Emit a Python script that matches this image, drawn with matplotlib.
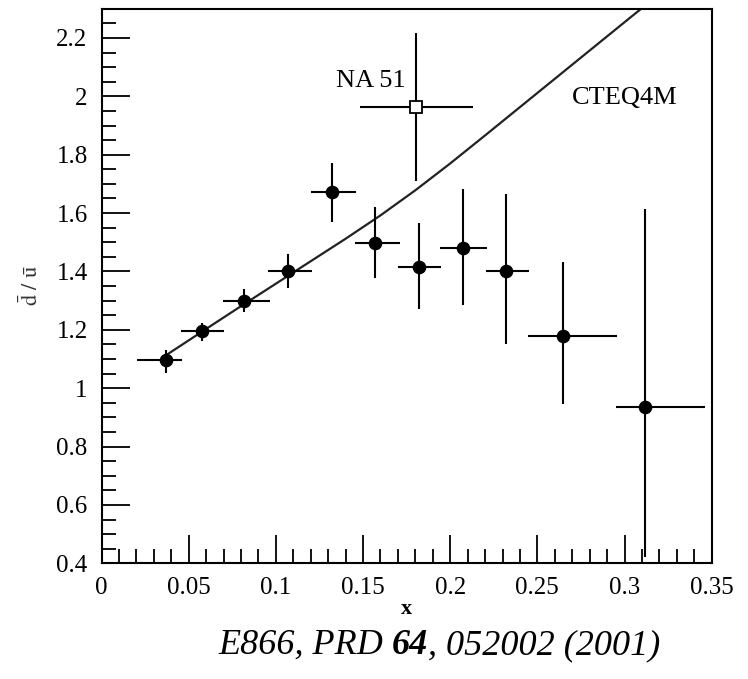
import matplotlib
matplotlib.use("Agg")
import matplotlib.pyplot as plt
from matplotlib.ticker import MultipleLocator

plt.rcParams['font.family'] = ['Liberation Serif', 'DejaVu Serif']
plt.rcParams['mathtext.fontset'] = 'stix'

# E866 d-bar/u-bar points
x_e866 = [0.0368, 0.0578, 0.0819, 0.1068, 0.1320, 0.1570, 0.1820, 0.2071, 0.2318, 0.2648, 0.3120]
y_e866 = [1.095, 1.196, 1.299, 1.403, 1.671, 1.497, 1.414, 1.480, 1.400, 1.180, 0.936]
xlo_e866 = [0.0166, 0.0122, 0.0124, 0.0111, 0.0120, 0.0116, 0.0120, 0.0131, 0.0115, 0.0204, 0.0170]
xhi_e866 = [0.0092, 0.0126, 0.0147, 0.0137, 0.0140, 0.0140, 0.0130, 0.0141, 0.0135, 0.0310, 0.0343]
ylo_e866 = [0.042, 0.036, 0.039, 0.060, 0.103, 0.118, 0.142, 0.194, 0.248, 0.234, 0.516]
yhi_e866 = [0.036, 0.029, 0.041, 0.057, 0.101, 0.123, 0.152, 0.203, 0.265, 0.254, 0.679]

# NA51 point
x_na51 = [0.1805]
y_na51 = [1.964]
xerr_na51 = [[0.0325], [0.0325]]
yerr_na51 = [[0.253], [0.253]]

# CTEQ4M curve
x_cteq = [0.035, 0.06, 0.08, 0.10, 0.12, 0.14, 0.16, 0.18, 0.20, 0.22, 0.24, 0.26, 0.28, 0.30, 0.312]
y_cteq = [1.105, 1.203, 1.281, 1.358, 1.435, 1.512, 1.592, 1.678, 1.770, 1.866, 1.963, 2.060, 2.157, 2.254, 2.312]

fig = plt.figure(figsize=(7.48, 6.79), dpi=100)
ax = fig.add_axes([0.1357, 0.1704, 0.8158, 0.8167])

ax.plot(x_cteq, y_cteq, color='#222222', lw=1.6, zorder=2)

ax.errorbar(x_e866, y_e866, xerr=[xlo_e866, xhi_e866], yerr=[ylo_e866, yhi_e866],
            fmt='o', color='black', ms=8.8, elinewidth=1.5, capsize=0, zorder=3)
ax.errorbar(x_na51, y_na51, xerr=xerr_na51, yerr=yerr_na51,
            fmt='s', mfc='white', mec='black', mew=1.3, ecolor='black', ms=9,
            elinewidth=1.5, capsize=0, zorder=3)

ax.text(0.1545, 2.054, 'NA 51', fontsize=19, ha='center', va='center')
ax.text(0.300, 1.995, 'CTEQ4M', fontsize=19, ha='center', va='center')

ax.set_xlim(0, 0.35)
ax.set_ylim(0.4, 2.3)
ax.xaxis.set_minor_locator(MultipleLocator(0.01))
ax.yaxis.set_minor_locator(MultipleLocator(0.05))
ax.set_xticks([0, 0.05, 0.1, 0.15, 0.2, 0.25, 0.3, 0.35])
ax.set_xticklabels(['0', '0.05', '0.1', '0.15', '0.2', '0.25', '0.3', '0.35'])
ax.set_yticks([0.4, 0.6, 0.8, 1.0, 1.2, 1.4, 1.6, 1.8, 2.0, 2.2])
ax.set_yticklabels(['0.4', '0.6', '0.8', '1', '1.2', '1.4', '1.6', '1.8', '2', '2.2'])

ax.tick_params(which='both', direction='in', top=False, right=False, labelsize=18, width=1.3)
ax.tick_params(which='major', length=20)
ax.tick_params(which='minor', length=10)
ax.tick_params(axis='x', pad=10)
ax.tick_params(axis='y', pad=10)
for s in ax.spines.values():
    s.set_linewidth(1.5)

ax.set_xlabel('x', fontsize=16, fontweight='bold', labelpad=0)
fig.text(31 / 748, 1 - 286 / 679, r'$\bar{\mathrm{d}}\ /\ \bar{\mathrm{u}}$', fontsize=16,
         rotation=90, ha='center', va='center', color='#333333')

# caption, italic with bold volume number
t1 = fig.text(218 / 748, 1 - 654 / 679, 'E866, PRD ', fontsize=26, style='italic', va='baseline')
t2 = ax.annotate('64', xy=(1, 0), xycoords=t1, fontsize=26, style='italic',
                 fontweight='bold', va='bottom', ha='left', annotation_clip=False)
ax.annotate(', 052002 (2001)', xy=(1, 0), xycoords=t2, fontsize=26, style='italic',
            va='bottom', ha='left', annotation_clip=False)

fig.savefig('out.png', dpi=100)
